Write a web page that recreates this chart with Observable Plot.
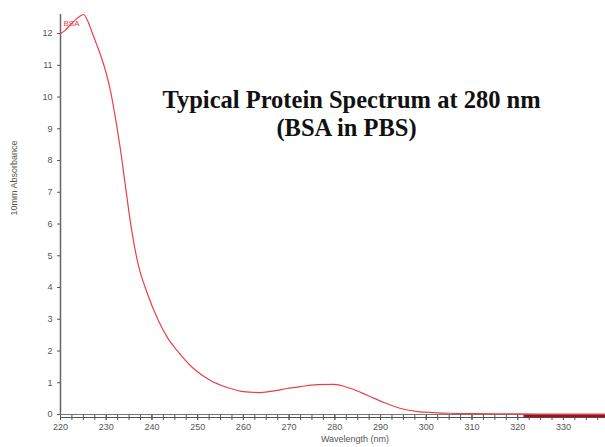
<!DOCTYPE html>
<html>
<head>
<meta charset="utf-8">
<script src="https://cdn.jsdelivr.net/npm/d3@7"></script>
<script src="https://cdn.jsdelivr.net/npm/@observablehq/plot@0.6"></script>
<style>
  html, body { margin: 0; padding: 0; background: #fff; }
  #chart svg { display: block; }
</style>
</head>
<body>
<div id="chart"></div>
<script>
// Wavelength (nm) and absorbance (10 mm path)
const wavelength = [220, 221, 222, 223, 224, 225, 226, 227, 228, 229, 230, 231, 232, 233, 234.2, 235.3, 236.8, 239, 241.4, 243.5, 245.6, 249.1, 252.8, 256.5, 260, 263.8, 267, 269.5, 272.5, 276.2, 279.7, 283.5, 287.2, 290.7, 294.4, 298.1, 301.6, 305, 310, 320, 330, 339];
const absorbance = [12.0, 12.1, 12.25, 12.4, 12.52, 12.6, 12.38, 12.0, 11.62, 11.22, 10.75, 10.15, 9.35, 8.45, 7.2, 6.05, 4.85, 3.81, 2.96, 2.4, 2.0, 1.45, 1.07, 0.85, 0.72, 0.69, 0.75, 0.82, 0.88, 0.94, 0.95, 0.82, 0.6, 0.38, 0.19, 0.09, 0.06, 0.04, 0.03, 0.02, 0.01, 0.01];
// baseline trace drawn in dark red at the right end
const tailX = [321.5, 339.2];
const tailY = [0, 0];

const majorTicks = [220, 230, 240, 250, 260, 270, 280, 290, 300, 310, 320, 330];
const minorTicks = d3.range(220, 340, 2.5);
const yTicks = [0, 1, 2, 3, 4, 5, 6, 7, 8, 9, 10, 11, 12];

const titleLine1 = "Typical Protein Spectrum at 280 nm";
const titleLine2 = "(BSA in PBS)";
const seriesLabel = "BSA";
const xLabel = "Wavelength (nm)";
const yLabel = "10mm Absorbance";

const spectrum = wavelength.map((w, i) => ({w, a: absorbance[i]}));
const tail = tailX.map((w, i) => ({w, a: tailY[i]}));

const chart = Plot.plot({
  width: 605,
  height: 447,
  marginTop: 14,
  marginBottom: 33,
  marginLeft: 60,
  marginRight: 0,
  style: {fontFamily: "Liberation Sans, Arial, sans-serif", background: "#fff"},
  x: {domain: [220, 339.2]},
  y: {domain: [0, 12.6]},
  marks: [
    Plot.axisX({ticks: minorTicks, tickFormat: () => "", tickSize: 6, stroke: "#555", label: null}),
    Plot.axisX({ticks: majorTicks, tickFormat: d3.format("d"), tickSize: 6, tickPadding: 3, fontSize: 9, fill: "#555", stroke: "#555", label: null}),
    Plot.axisY({ticks: yTicks, tickSize: 3, tickPadding: 5, fontSize: 9, fill: "#555", stroke: "#555", label: null}),
    Plot.ruleX([220], {stroke: "#666", strokeWidth: 1.5}),
    Plot.ruleY([0], {stroke: "#777", strokeWidth: 1}),
    Plot.ruleY([0], {stroke: "#555", strokeWidth: 1, dy: 3}),
    Plot.line(tail, {x: "w", y: "a", stroke: "#a01018", strokeWidth: 2.5, dy: 1.5}),
    Plot.line(spectrum, {x: "w", y: "a", curve: "monotone-x", stroke: "#e8404a", strokeWidth: 1.2}),
    Plot.text([seriesLabel], {frameAnchor: "top-left", dx: 3, dy: 6, textAnchor: "start", fontSize: 8, fill: "#e8404a"}),
    Plot.text([titleLine1], {frameAnchor: "top", dx: 18.5, dy: 76, fontSize: 24.5, fontWeight: "bold", fontFamily: "Liberation Serif, serif", fill: "#111"}),
    Plot.text([titleLine2], {frameAnchor: "top", dx: 13.5, dy: 104, fontSize: 24.5, fontWeight: "bold", fontFamily: "Liberation Serif, serif", fill: "#111"}),
    Plot.text([xLabel], {frameAnchor: "bottom", dx: 22, dy: 27, fontSize: 9, fill: "#555"}),
    Plot.text([yLabel], {frameAnchor: "left", dx: -46, dy: 1, rotate: -90, fontSize: 9, fill: "#555"})
  ]
});
document.getElementById("chart").appendChild(chart);
</script>
</body>
</html>
